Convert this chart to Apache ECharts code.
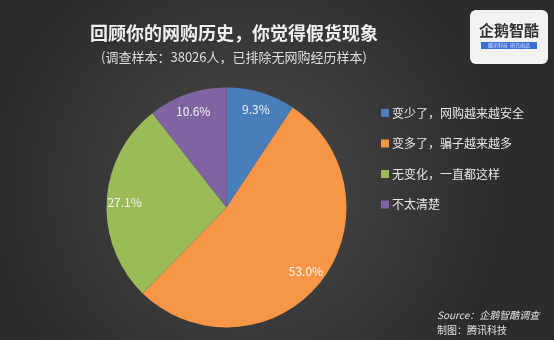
<!DOCTYPE html>
<html><head><meta charset="utf-8">
<script src="https://cdn.jsdelivr.net/npm/echarts@6/dist/echarts.min.js"></script>
<style>html,body{margin:0;padding:0;background:#333;}#c{width:554px;height:340px;}</style>
</head><body><div id="c"></div>
<script>
const categories = ['变少了，网购越来越安全', '变多了，骗子越来越多', '无变化，一直都这样', '不太清楚'];
const values = [9.3, 53.0, 27.1, 10.6];
const colors = ['#4a7ebb', '#f79646', '#9bbb59', '#8064a2'];
const titleText = '回顾你的网购历史，你觉得假货现象';
const subText = '(调查样本：38026人，已排除无网购经历样本)';

const data = categories.map((n, i) => ({ name: n, value: values[i], itemStyle: { color: colors[i] } }));
const font = '"Noto Sans CJK SC", sans-serif';
const chart = echarts.init(document.getElementById('c'));
chart.setOption({
  animation: false,
  backgroundColor: {
    type: 'radial', x: 0.45, y: 0.55, r: 0.75,
    colorStops: [{ offset: 0, color: '#4a4a4a' }, { offset: 1, color: '#2c2c2c' }]
  },
  title: {
    text: titleText, subtext: subText, left: 229, top: 19, textAlign: 'center', itemGap: 9,
    textStyle: { color: '#f0f0f0', fontSize: 18, fontWeight: 'bold', fontFamily: font },
    subtextStyle: { color: '#dcdcdc', fontSize: 13, fontFamily: font }
  },
  legend: {
    orient: 'vertical', left: 376, top: 102, itemGap: 18.5, itemWidth: 8, itemHeight: 8,
    icon: 'rect', data: categories,
    textStyle: { color: '#e6e6e6', fontSize: 12, fontFamily: font, padding: [0, 0, 0, -2] }
  },
  series: [
    {
      type: 'pie', center: [226.5, 207.5], radius: [0, 120], startAngle: 90, clockwise: true,
      data: data, label: { show: false }, labelLine: { show: false }, silent: true
    },
    {
      type: 'pie', center: [226.5, 207.5], radius: [78, 120], startAngle: 90, clockwise: true,
      data: categories.map((n, i) => ({ name: n, value: values[i] })),
      itemStyle: { color: 'rgba(0,0,0,0)' }, silent: true, legendHoverLink: false,
      label: {
        show: true, position: 'inside', formatter: p => p.value.toFixed(1) + '%',
        color: '#f4f4f4', fontSize: 12, fontFamily: font
      },
      labelLine: { show: false }
    }
  ],
  graphic: [
    { type: 'rect', shape: { x: 470, y: 10, width: 78, height: 54, r: 6 }, style: { fill: '#f2f2f2' } },
    { type: 'text', style: { x: 509, y: 30, text: '企鹅智酷', fill: '#333', font: 'bold 15px ' + font, textAlign: 'center', textVerticalAlign: 'middle' } },
    { type: 'rect', shape: { x: 481, y: 42, width: 56, height: 7 }, style: { fill: '#3a6fd8' } },
    { type: 'text', style: { x: 509, y: 45.5, text: '腾讯科技  研究出品', fill: '#dfe8ff', font: '5px ' + font, textAlign: 'center', textVerticalAlign: 'middle' } },
    { type: 'text', style: { x: 437, y: 315, text: 'Source：企鹅智酷调查', fill: '#e0e0e0', font: 'italic 10px ' + font, textVerticalAlign: 'middle' } },
    { type: 'text', style: { x: 437, y: 330, text: '制图：腾讯科技', fill: '#e0e0e0', font: '10px ' + font, textVerticalAlign: 'middle' } }
  ]
});
</script></body></html>
